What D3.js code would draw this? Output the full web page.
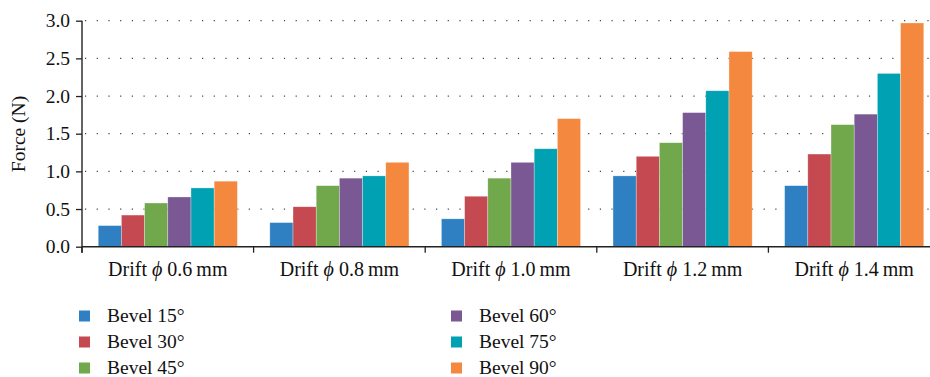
<!DOCTYPE html>
<html><head><meta charset="utf-8">
<script src="https://cdn.jsdelivr.net/npm/d3@7"></script>
<style>body{margin:0;background:#fff}svg text{font-family:"Liberation Serif","Times New Roman",serif;fill:#111}</style>
</head><body><svg id="c" width="930" height="377"></svg>
<script>
const categories = ["0.6", "0.8", "1.0", "1.2", "1.4"];
const series = ["Bevel 15°", "Bevel 30°", "Bevel 45°", "Bevel 60°", "Bevel 75°", "Bevel 90°"];
const bevel15 = [0.28, 0.32, 0.37, 0.94, 0.81];
const bevel30 = [0.42, 0.53, 0.67, 1.20, 1.23];
const bevel45 = [0.58, 0.81, 0.91, 1.38, 1.62];
const bevel60 = [0.66, 0.91, 1.12, 1.78, 1.76];
const bevel75 = [0.78, 0.94, 1.30, 2.07, 2.30];
const bevel90 = [0.87, 1.12, 1.70, 2.59, 2.97];
const yTicks = [0, 0.5, 1.0, 1.5, 2.0, 2.5, 3.0];
const colors = ["#2f80c2", "#c44950", "#71a84b", "#7a5893", "#00a1b2", "#f4883f"];
const values = [bevel15, bevel30, bevel45, bevel60, bevel75, bevel90];

const svg = d3.select("#c");
const mLeft = 82, mRight = 940, mTop = 20.7, mBottom = 246.7;
const x0 = d3.scaleBand().domain(categories).range([mLeft, mRight]).paddingInner(0).paddingOuter(0);
const x1 = d3.scaleBand().domain(series).range([0, x0.bandwidth()]).paddingInner(0).paddingOuter(0.7);
const y = d3.scaleLinear().domain([0, 3]).range([mBottom, mTop]);

// grid
svg.append("g").selectAll("line").data(yTicks.filter(d => d > 0)).join("line")
  .attr("x1", mLeft + 3).attr("x2", 930).attr("y1", d => y(d)).attr("y2", d => y(d))
  .attr("stroke", "#444").attr("stroke-width", 1.2).attr("stroke-dasharray", "1.2,10.5");

// bars
const g = svg.append("g");
categories.forEach((c, ci) => {
  series.forEach((s, si) => {
    const v = values[si][ci];
    g.append("rect")
      .attr("x", x0(c) + x1(s)).attr("width", x1.bandwidth())
      .attr("y", y(v)).attr("height", y(0) - y(v))
      .attr("fill", colors[si]).attr("stroke", "#fff").attr("stroke-opacity", 0.5).attr("stroke-width", 0.6);
  });
});

// y axis
const yAxis = d3.axisLeft(y).tickValues(yTicks).tickFormat(d3.format(".1f")).tickSize(6).tickPadding(6);
const ya = svg.append("g").attr("transform", `translate(${mLeft},0)`).call(yAxis);
ya.select(".domain").remove();
ya.selectAll(".tick line").attr("stroke", "#222").attr("stroke-width", 1.3);
ya.selectAll(".tick text").attr("font-size", 19.5).attr("font-family", "Liberation Serif").attr("fill", "#111");
svg.append("line").attr("x1", mLeft).attr("x2", mLeft).attr("y1", mTop).attr("y2", mBottom + 6)
  .attr("stroke", "#222").attr("stroke-width", 1.4);

// x axis
svg.append("line").attr("x1", mLeft).attr("x2", 930).attr("y1", mBottom).attr("y2", mBottom)
  .attr("stroke", "#222").attr("stroke-width", 1.4);
const xa = svg.append("g").attr("transform", `translate(0,${mBottom})`)
  .call(d3.axisBottom(x0).tickSize(0).tickFormat(""));
xa.select(".domain").remove();
svg.append("g").selectAll("line").data(categories).join("line")
  .attr("x1", d => x0(d)).attr("x2", d => x0(d)).attr("y1", mBottom).attr("y2", mBottom + 6)
  .attr("stroke", "#222").attr("stroke-width", 1.3);
const xl = svg.append("g").selectAll("text").data(categories).join("text")
  .attr("x", d => x0(d) + x0.bandwidth() / 2).attr("y", 276).attr("text-anchor", "middle")
  .attr("font-size", 20);
xl.append("tspan").text("Drift ");
xl.append("tspan").attr("font-style", "italic").text("ϕ");
xl.append("tspan").text(d => " " + d + "\u2009mm");

// y title
svg.append("text").attr("transform", "translate(25,134) rotate(-90)").attr("text-anchor", "middle")
  .attr("font-size", 19.5).text("Force (N)");

// legend
const legPos = [[79, 316], [79, 342], [79, 368], [451, 316], [451, 342], [451, 368]];
const lg = svg.append("g").selectAll("g").data(series).join("g")
  .attr("transform", (d, i) => `translate(${legPos[i][0]},${legPos[i][1]})`);
lg.append("rect").attr("x", 0).attr("y", -5.5).attr("width", 11).attr("height", 11)
  .attr("fill", (d, i) => colors[i]);
lg.append("text").attr("x", 28).attr("y", 6).attr("font-size", 19.5).text(d => d);
</script></body></html>
